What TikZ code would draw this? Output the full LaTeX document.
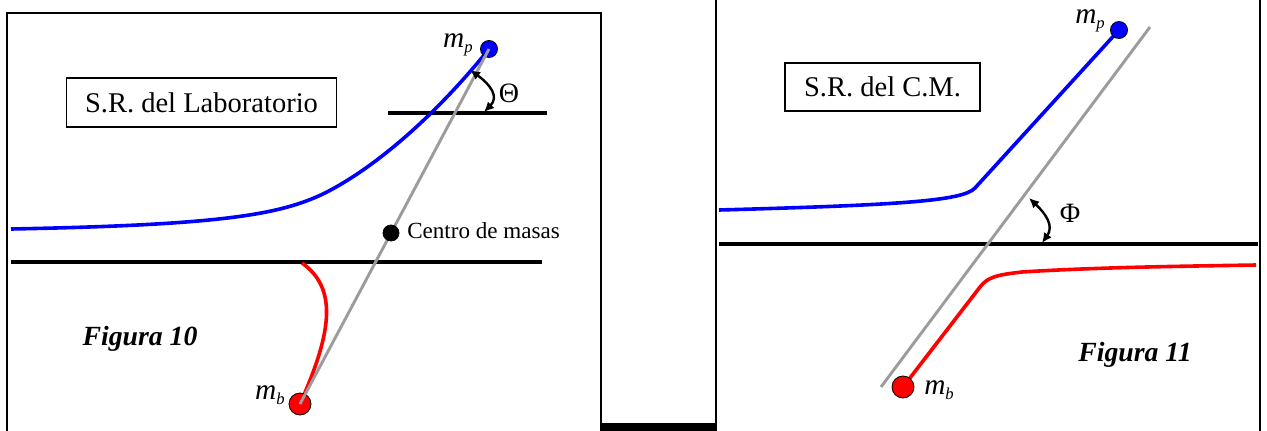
\documentclass[tikz,border=0pt]{standalone}
\usepackage{fontspec}
\setmainfont{Liberation Serif}
\usepackage{tikz}
\usetikzlibrary{arrows.meta}
\definecolor{trackgray}{HTML}{9C9C9C}
\definecolor{pblue}{HTML}{0000FF}
\definecolor{bred}{HTML}{FF0000}
\tikzset{
  frame/.style={line width=1.1pt},
  refbox/.style={draw,line width=0.9pt,inner sep=0pt,align=center,font=\fontsize{21.4}{24}\selectfont},
  axisline/.style={line width=3pt},
  pathp/.style={pblue,line width=2.7pt},
  pathb/.style={bred,line width=2.7pt},
  joinline/.style={trackgray,line width=2.2pt},
  mass/.style={circle,draw=black,line width=0.6pt,inner sep=0pt},
  anglearrow/.style={{Latex[length=7.5pt,width=7pt]}-{Latex[length=7.5pt,width=7pt]},line width=1.8pt},
  masslabel/.style={font=\fontsize{22}{24}\selectfont\itshape,inner sep=0pt},
  anglelabel/.style={font=\fontsize{21}{24}\selectfont,inner sep=0pt},
  figlabel/.style={font=\fontsize{20.8}{24}\selectfont\bfseries\itshape,inner sep=0pt}
}
\newcommand{\msub}[1]{m\raisebox{-4pt}{\fontsize{12.5}{12.5}\selectfont #1}}

\begin{document}
\begin{tikzpicture}[x=0.75pt,y=-0.75pt]
  \useasboundingbox (0,0) rectangle (1267,431);

  % Frames
  \draw[frame] (7,431) -- (7,13) -- (601,13) -- (601,431);
  \draw[frame] (716,0) -- (716,431);
  \draw[frame] (1260,0) -- (1260,431);
  \fill (601,423) rectangle (716,431);

  % Laboratory frame (left)
  \node[refbox,minimum width=203pt,minimum height=36.8pt] (labbox) at (201.5,102.5) {S.R. del Laboratorio};
  \draw[axisline] (388,113) -- (547,113);
  \draw[axisline] (11,262) -- (542,262);
  \coordinate (mpLpos) at (489,49);
  \coordinate (mbLpos) at (300,404);
  \draw[pathp] (11,229) .. controls (220,225) and (280,215) .. (325,193)
    .. controls (380,165) and (440,110) .. (mpLpos);
  \draw[pathb] (302,263) .. controls (337,288) and (333,330) .. (mbLpos);
  \node[mass,fill=pblue,minimum size=12.8pt] (mpL) at (mpLpos) {};
  \node[mass,fill=bred,minimum size=16.5pt] (mbL) at (mbLpos) {};
  \draw[joinline] (mpL.center) -- (mbL.center);
  \node[mass,fill=black,minimum size=12pt] (cmL) at (391,233) {};
  \node[anchor=west,inner sep=0pt,font=\fontsize{17.3}{20}\selectfont] (cmlabel) at (407,231) {Centro de masas};
  \draw[anglearrow] (470,70) .. controls (491,85) and (499,97) .. (484,112);

  % Labels
  \node[masslabel] (mpLlabel) at (458,45) {\msub{p}};
  \node[masslabel] (mbLlabel) at (270,395) {\msub{b}};
  \node[anglelabel] (thetalabel) at (509,93) {Θ};
  \node[figlabel] (fig10) at (140,339) {Figura 10};

  % Centre of mass frame (right)
  \node[refbox,minimum width=146.3pt,minimum height=36pt] (cmbox) at (882.5,87) {S.R. del C.M.};
  \draw[axisline] (719,243.5) -- (1258,243.5);
  \coordinate (mpRpos) at (1119,30);
  \coordinate (mbRpos) at (903,387);
  \draw[pathp] (719,210) .. controls (900,205) and (963,201) .. (975,188) -- (mpRpos);
  \draw[pathb] (mbRpos) -- (980,287) .. controls (988,277) and (996,275) .. (1022,272)
    .. controls (1100,267) and (1200,266) .. (1256,265);
  \coordinate (gtop) at (1150,27);
  \coordinate (gbot) at (881,387);
  \draw[joinline] (gtop) -- (gbot);
  \node[mass,fill=pblue,minimum size=12.8pt] (mpR) at (mpRpos) {};
  \node[mass,fill=bred,minimum size=16.5pt] (mbR) at (mbRpos) {};
  \draw[anglearrow] (1029,198) .. controls (1046,214) and (1054,226) .. (1042,243);

  % Labels
  \node[masslabel] (mpRlabel) at (1090,21) {\msub{p}};
  \node[masslabel] (mbRlabel) at (939,390) {\msub{b}};
  \node[anglelabel] (philabel) at (1070,213) {Φ};
  \node[figlabel] (fig11) at (1135,355) {Figura 11};
\end{tikzpicture}
\end{document}
